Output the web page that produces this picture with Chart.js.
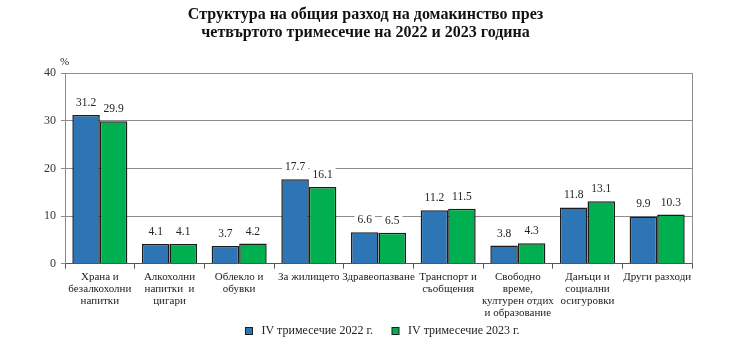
<!DOCTYPE html>
<html>
<head>
<meta charset="utf-8">
<script src="https://cdn.jsdelivr.net/npm/chart.js@4/dist/chart.umd.min.js"></script>
<style>
  html, body { margin: 0; padding: 0; background: #fff; }
  #wrap { width: 740px; height: 348px; }
</style>
</head>
<body>
<div id="wrap"><canvas id="chart"></canvas></div>
<script>
const categories = [
  ['Храна и', 'безалкохолни', 'напитки'],
  ['Алкохолни', 'напитки  и', 'цигари'],
  ['Облекло и', 'обувки'],
  'За жилището',
  'Здравеопазване',
  ['Транспорт и', 'съобщения'],
  ['Свободно', 'време,', 'културен отдих', 'и образование'],
  ['Данъци и', 'социални', 'осигуровки'],
  'Други разходи',
];
const q4of2022 = [31.2, 4.1, 3.7, 17.7, 6.6, 11.2, 3.8, 11.8, 9.9];
const q4of2023 = [29.9, 4.1, 4.2, 16.1, 6.5, 11.5, 4.3, 13.1, 10.3];
const seriesNames = ['IV тримесечие 2022 г.', 'IV тримесечие 2023 г.'];
const yTicks = [0, 10, 20, 30, 40];

const serif = 'Liberation Serif, Times New Roman, serif';

// value labels on white boxes, % sign, right frame line and the legend
const extras = {
  id: 'extras',
  beforeDatasetsDraw(chart) {
    const { ctx, chartArea } = chart;
    ctx.save();
    ctx.strokeStyle = '#8c8c8c';
    ctx.lineWidth = 1;
    ctx.beginPath();
    ctx.moveTo(Math.round(chartArea.right) + 0.5, chartArea.top);
    ctx.lineTo(Math.round(chartArea.right) + 0.5, chartArea.bottom);
    ctx.stroke();
    ctx.restore();
  },
  afterDatasetsDraw(chart) {
    const { ctx, chartArea } = chart;
    ctx.save();
    ctx.font = '11.5px ' + serif;
    ctx.textAlign = 'center';
    ctx.textBaseline = 'middle';
    chart.data.datasets.forEach((ds, i) => {
      chart.getDatasetMeta(i).data.forEach((bar, j) => {
        const text = ds.data[j].toFixed(1);
        const y = bar.y - 12;
        const w = ctx.measureText(text).width + 6;
        ctx.fillStyle = '#fff';
        ctx.fillRect(bar.x - w / 2, y - 8, w, 16);
        ctx.fillStyle = '#222';
        ctx.fillText(text, bar.x, y);
      });
    });
    ctx.textAlign = 'left';
    ctx.font = '11px ' + serif;
    ctx.fillText('%', chartArea.left - 5, chartArea.top - 11);
    ctx.restore();
  },
  afterDraw(chart) {
    const { ctx, chartArea } = chart;
    ctx.save();
    ctx.font = '12px ' + serif;
    ctx.textBaseline = 'middle';
    const box = 7;
    const gap = 19;
    const items = chart.data.datasets.map((ds) => ({
      ds,
      w: box + 9 + ctx.measureText(ds.label).width,
    }));
    const total = items.reduce((s, it) => s + it.w, 0) + gap * (items.length - 1);
    let x = (chartArea.left + chartArea.right) / 2 + 4 - total / 2;
    const y = 331;
    items.forEach((it) => {
      ctx.fillStyle = it.ds.backgroundColor;
      ctx.fillRect(x, y - box / 2, box, box);
      ctx.strokeStyle = '#1c1c1c';
      ctx.lineWidth = 1;
      ctx.strokeRect(x, y - box / 2, box, box);
      ctx.fillStyle = '#222';
      ctx.fillText(it.ds.label, x + box + 9, y);
      x += it.w + gap;
    });
    ctx.restore();
  },
};

new Chart(document.getElementById('chart'), {
  type: 'bar',
  data: {
    labels: categories,
    datasets: [
      {
        label: seriesNames[0],
        data: q4of2022,
        backgroundColor: '#2e75b6',
        borderColor: '#1c1c1c',
        borderWidth: 1.5,
        categoryPercentage: 0.79,
        barPercentage: 1.0,
      },
      {
        label: seriesNames[1],
        data: q4of2023,
        backgroundColor: '#00b050',
        borderColor: '#1c1c1c',
        borderWidth: 1.5,
        categoryPercentage: 0.79,
        barPercentage: 1.0,
      },
    ],
  },
  options: {
    responsive: true,
    maintainAspectRatio: false,
    animation: false,
    layout: { padding: { left: 39, right: 48, top: 0, bottom: 27 } },
    scales: {
      x: {
        grid: {
          offset: true,
          drawOnChartArea: false,
          tickLength: 5,
          tickColor: '#555',
        },
        border: { color: '#555', width: 1 },
        ticks: {
          autoSkip: false,
          maxRotation: 0,
          color: '#222',
          padding: 2,
          font: { family: serif, size: 11, lineHeight: 1.1 },
        },
      },
      y: {
        min: 0,
        max: 40,
        afterBuildTicks: (axis) => {
          axis.ticks = yTicks.map((v) => ({ value: v }));
        },
        grid: {
          color: '#8c8c8c',
          tickLength: 4,
          tickColor: '#8c8c8c',
        },
        border: { color: '#8c8c8c', width: 1 },
        ticks: {
          color: '#333',
          padding: 5,
          font: { family: serif, size: 12 },
        },
      },
    },
    plugins: {
      title: {
        display: true,
        text: [
          'Структура на общия разход на домакинство през',
          'четвъртото тримесечие на 2022 и 2023 година',
        ],
        color: '#111',
        font: { family: serif, size: 16, weight: 'bold', lineHeight: 1.1 },
        padding: { top: 6, bottom: 32 },
      },
      legend: { display: false },
      tooltip: { enabled: false },
    },
  },
  plugins: [extras],
});
</script>
</body>
</html>
